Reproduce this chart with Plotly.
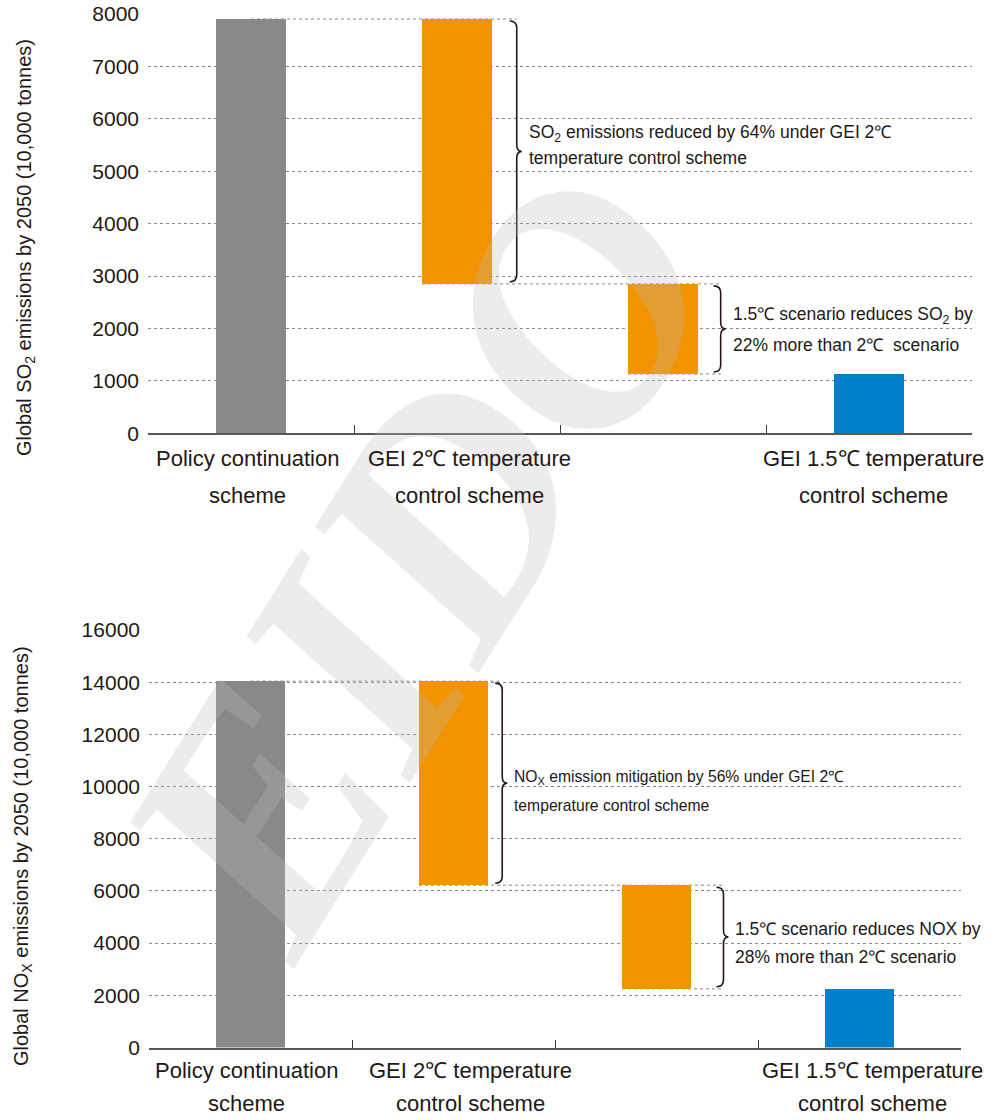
import plotly.graph_objects as go

# ---- data -------------------------------------------------------------
category_lines = [
    ["Policy continuation", "scheme"],
    ["GEI 2℃ temperature", "control scheme"],
    ["", ""],
    ["GEI 1.5℃ temperature", "control scheme"],
]

so2_policy = 7905
so2_gei_2c = 2850
so2_gei_15c = 1130

nox_policy = 14040
nox_gei_2c = 6220
nox_gei_15c = 2250

so2_ticks = [0, 1000, 2000, 3000, 4000, 5000, 6000, 7000, 8000]
nox_ticks = [0, 2000, 4000, 6000, 8000, 10000, 12000, 14000, 16000]

so2_title = "Global SO<sub>2</sub> emissions by 2050 (10,000 tonnes)"
nox_title = "Global NO<sub>X</sub> emissions by 2050 (10,000 tonnes)"

so2_notes = [
    ["SO<sub>2</sub> emissions reduced by 64% under GEI 2℃", "temperature control scheme"],
    ["1.5℃ scenario reduces SO<sub>2</sub> by", "22% more than 2℃  scenario"],
]
nox_notes = [
    ["NO<sub>X</sub> emission mitigation by 56% under GEI 2℃", "temperature control scheme"],
    ["1.5℃ scenario reduces NOX by", "28% more than 2℃ scenario"],
]

# ---- style ------------------------------------------------------------
W, H = 993, 1120
GRAY, ORANGE, BLUE = "#898989", "#f29400", "#0080c8"
TEXT = "#231815"
GRID = "#8a8a8a"
FONT = "Liberation Sans, Arial, sans-serif"
BAR_W = 0.34

panels = [
    dict(policy=so2_policy, g2=so2_gei_2c, g15=so2_gei_15c, ticks=so2_ticks,
         title=so2_title, notes=so2_notes,
         px=(148, 972), py=(14, 433.2), braces=(1.29, 2.28),
         note_shift=[(18, -7), (13, -16)], note_size=[17.5, 17.5],
         label_shift=[-4, 12, 0, 4], label_y=(-25, -62), title_xy=(25, 248)),
    dict(policy=nox_policy, g2=nox_gei_2c, g15=nox_gei_15c, ticks=nox_ticks,
         title=nox_title, notes=nox_notes,
         px=(149, 961), py=(630, 1047.5), braces=(1.24, 2.33),
         note_shift=[(6, -22), (8, -20)], note_size=[15.7, 17.5],
         label_shift=[-4, 17, 0, 13], label_y=(-23, -56), title_xy=(22, 856)),
]

fig = go.Figure()
shapes, annotations = [], []

# faint watermark lettering behind the annotations
annotations.append(dict(
    text="<b><i>EIDO</i></b>", xref="paper", yref="paper", x=0.42, y=0.5,
    xanchor="center", yanchor="middle", textangle=-58, showarrow=False,
    font=dict(family="Liberation Serif, serif", size=330, color="rgba(185,185,185,0.28)")))

for i, p in enumerate(panels):
    sfx = "" if i == 0 else str(i + 1)
    xa, ya = "x" + sfx, "y" + sfx
    ymax = p["ticks"][-1]
    plot_h = p["py"][1] - p["py"][0]
    per_px = ymax / plot_h

    bases = [0, p["g2"], p["g15"], 0]
    heights = [p["policy"], p["policy"] - p["g2"], p["g2"] - p["g15"], p["g15"]]
    fig.add_trace(go.Bar(
        x=[0, 1, 2, 3], y=heights, base=bases, width=BAR_W,
        marker=dict(color=[GRAY, ORANGE, ORANGE, BLUE], line=dict(width=0)),
        xaxis=xa, yaxis=ya, showlegend=False, hoverinfo="skip",
    ))

    b1, b2 = p["braces"]
    # dotted connectors from bar edges to the braces
    for (x0, x1, yv) in [(0, b1, p["policy"]),
                         (1 - BAR_W / 2, b2, p["g2"]),
                         (2 - BAR_W / 2, b2, p["g15"])]:
        shapes.append(dict(type="line", xref=xa, yref=ya, x0=x0, x1=x1, y0=yv, y1=yv,
                           line=dict(color=GRID, width=1, dash="dot"), layer="below"))

    # curly braces spanning each reduction step
    r = 7 * per_px
    for bx, top, bot in [(b1, p["policy"], p["g2"]), (b2, p["g2"], p["g15"])]:
        top -= 2 * per_px
        bot += 2 * per_px
        mid = (top + bot) / 2
        path = (f"M -7,{top} Q 0,{top} 0,{top - r} L 0,{mid + r} "
                f"Q 0,{mid} 5,{mid} Q 0,{mid} 0,{mid - r} L 0,{bot + r} "
                f"Q 0,{bot} -7,{bot}")
        shapes.append(dict(type="path", xref=xa, yref=ya, xsizemode="pixel", xanchor=bx,
                           path=path, line=dict(color=TEXT, width=1.6)))

    # brace notes
    for (bx, top, bot), lines, shifts, fs in zip(
            [(b1, p["policy"], p["g2"]), (b2, p["g2"], p["g15"])],
            p["notes"], p["note_shift"], p["note_size"]):
        for line, ys in zip(lines, shifts):
            annotations.append(dict(
                text=line, xref=xa, yref=ya, x=bx, y=(top + bot) / 2,
                xanchor="left", yanchor="middle", xshift=10, yshift=ys, showarrow=False,
                font=dict(family=FONT, size=fs, color=TEXT)))

    # category labels under the axis (two lines each)
    for c, (lines, xs) in enumerate(zip(category_lines, p["label_shift"])):
        for line, ys in zip(lines, p["label_y"]):
            if line:
                annotations.append(dict(
                    text=line, xref=xa, yref=ya, x=c, y=0, xanchor="center",
                    yanchor="middle", xshift=xs, yshift=ys, showarrow=False,
                    font=dict(family=FONT, size=22, color=TEXT)))

    # rotated y-axis title
    tx, ty = p["title_xy"]
    annotations.append(dict(
        text=p["title"], xref="paper", yref="paper", x=tx / W, y=1 - ty / H,
        xanchor="center", yanchor="middle", textangle=-90, showarrow=False,
        font=dict(family=FONT, size=20, color=TEXT)))

    fig.layout["xaxis" + sfx] = dict(
        domain=[p["px"][0] / W, p["px"][1] / W], anchor=ya, range=[-0.5, 3.5],
        tickmode="array", tickvals=[-0.5, 0.5, 1.5, 2.5, 3.5], ticks="inside",
        ticklen=8, tickwidth=1.2, tickcolor="#3e3a39", showticklabels=False,
        showline=True, linecolor="#595757", linewidth=1.5, showgrid=False,
        zeroline=False, fixedrange=True)
    fig.layout["yaxis" + sfx] = dict(
        domain=[1 - p["py"][1] / H, 1 - p["py"][0] / H], anchor=xa, range=[0, ymax],
        tickmode="array", tickvals=p["ticks"], ticktext=[str(t) for t in p["ticks"]],
        ticks="", showline=False,
        showgrid=True, gridcolor=GRID, gridwidth=1, griddash="dot", zeroline=False,
        tickfont=dict(family=FONT, size=21, color=TEXT), ticklabelstandoff=8,
        automargin=False, fixedrange=True)

fig.update_layout(
    width=W, height=H, margin=dict(l=0, r=0, t=0, b=0),
    paper_bgcolor="white", plot_bgcolor="white", bargap=0,
    shapes=shapes, annotations=annotations, font=dict(family=FONT, color=TEXT),
)

fig.write_html("out.html")
